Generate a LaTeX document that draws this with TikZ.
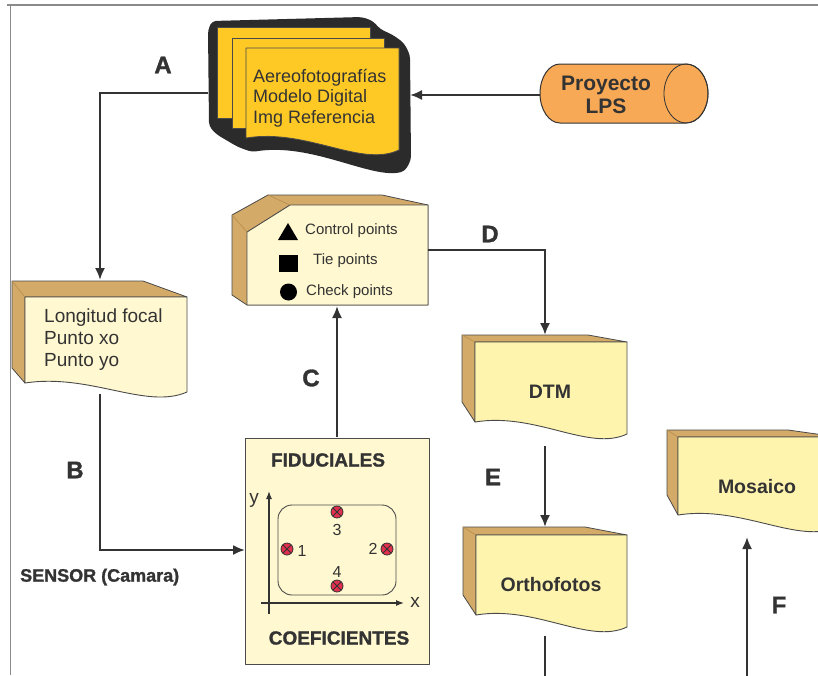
\documentclass[tikz,border=0pt]{standalone}
\usepackage{fontspec}
\setmainfont{Liberation Sans}
\newfontfamily\heavyfont{Liberation Sans}[BoldFeatures={FakeBold=1.3}]
\usetikzlibrary{arrows.meta}
\definecolor{ink}{HTML}{333333}
\definecolor{edge}{HTML}{4A4A4A}
\definecolor{tanc}{HTML}{D4AA69}
\definecolor{tanedge}{HTML}{B8904F}
\definecolor{facea}{HTML}{FFF8D0}
\definecolor{faceb}{HTML}{FFF4AE}
\definecolor{docy}{HTML}{FFC925}
\definecolor{stackk}{HTML}{2B2B2B}
\definecolor{orng}{HTML}{F7A955}
\definecolor{redm}{HTML}{E0304E}
\definecolor{frame}{HTML}{8A8A8A}
\tikzset{
  conn/.style={draw=ink, line width=2pt},
  arr/.style={conn, -{Latex[length=12pt,width=10pt]}},
  tanside/.style={fill=tanc, draw=edge, line width=0.8pt, line join=round},
  tanline/.style={draw=tanedge, line width=0.7pt},
  facepale/.style={fill=facea, draw=edge, line width=0.9pt, line join=round},
  facebright/.style={fill=faceb, draw=edge, line width=0.9pt, line join=round},
  page/.style={fill=docy, draw=edge, line width=0.8pt, line join=round},
  lbl/.style={font=\fontsize{24}{24}\selectfont\heavyfont\bfseries, text=ink, inner sep=0pt},
  btxt/.style={font=\fontsize{19.5}{22}\selectfont\bfseries, text=ink, inner sep=0pt},
  htxt/.style={font=\fontsize{19}{22}\selectfont\heavyfont\bfseries, text=ink, inner sep=0pt},
  rtxt/.style={font=\fontsize{15}{18}\selectfont, text=ink, inner sep=0pt},
  fid/.style={fill=redm, draw=ink, line width=0.8pt},
}
\begin{document}
\begin{tikzpicture}[x=1pt,y=-1pt]
\useasboundingbox (0,0) rectangle (818,675);
\clip (0,0) rectangle (818,675);

% frame
\draw[frame, line width=1.4pt] (7,5) -- (818,5);
\draw[frame, line width=1.4pt] (10.5,5) -- (10.5,675);

% ---------- document stack ----------
\fill[stackk, rounded corners=4pt] (208,30) -- (212,21) -- (362,17) -- (373,21) -- (380,29) -- (393,35) -- (404,43) -- (410,55) -- (411,160)
   -- (405,171) .. controls (372,180) and (312,142) .. (252,152) -- (238,147) -- (226,140) -- (216,134) -- (209,126) -- cycle;
\draw[page] (217,27) rectangle (370,118);
\draw[page] (232,38) rectangle (384,128);
\draw[page] (246,48) -- (399,48) -- (399,150) .. controls (361,168) and (307,128) .. (246,138) -- cycle;
\node[anchor=west, align=left, font=\fontsize{18}{20.5}\selectfont, text=ink, inner sep=0pt] (docs) at (253,98)
  {Aereofotografías\\Modelo Digital\\Img Referencia};
\coordinate (docL) at (208,93);
\coordinate (docR) at (410,95);

% ---------- cylinder ----------
\draw[fill=orng, draw=ink, line width=1pt] (560,64) -- (686,64)
   arc[start angle=-90, end angle=90, x radius=22, y radius=29.5] -- (560,123)
   arc[start angle=90, end angle=270, x radius=20, y radius=29.5] -- cycle;
\draw[draw=ink, line width=0.8pt] (686,93.5) ellipse[x radius=22, y radius=29.5];
\node[align=center, font=\fontsize{21}{23}\selectfont\bfseries, text=ink, inner sep=0pt] (lps) at (606,95) {Proyecto\\LPS};
\coordinate (cylL) at (540,95);

% ---------- Longitud box ----------
\draw[tanside] (12,281) -- (143,281) -- (187,297) -- (25,297) -- (25,383) -- (12,368) -- cycle;
\draw[tanline] (12,281) -- (25,297);
\draw[facepale] (25,297) -- (187,297) -- (187,392) .. controls (146,410) and (90,373) .. (25,383) -- cycle;
\node[anchor=west, align=left, font=\fontsize{19}{22}\selectfont, text=ink, inner sep=0pt] (cam) at (44,340)
  {Longitud focal\\Punto xo\\Punto yo};
\coordinate (camT) at (100,280);
\coordinate (camB) at (100,394);

% ---------- control points box ----------
\draw[tanside] (232,215) -- (268,195) -- (382,195) -- (428,205) -- (428,305) -- (247,305) -- (232,295) -- cycle;
\draw[facepale] (247,232) -- (290,205) -- (428,205) -- (428,305) -- (247,305) -- cycle;
\draw[tanline] (268,195) -- (290,205);
\draw[tanline] (232,215) -- (247,232);
\fill[black] (278,240) -- (298,240) -- (288,223) -- cycle;
\fill[black] (279,255) rectangle (298,272);
\fill[black] (288.5,292) circle[radius=8.5];
\node[rtxt, anchor=west] (cp) at (305,231) {Control points};
\node[rtxt, anchor=west] (tp) at (313,261) {Tie points};
\node[rtxt, anchor=west] (kp) at (306,292) {Check points};
\coordinate (ctlB) at (337,306);
\coordinate (ctlR) at (428,250);

% ---------- FIDUCIALES box ----------
\draw[facepale] (245,438) rectangle (429,664);
\node[htxt] (fidt) at (328,460) {FIDUCIALES};
\node[htxt] (coef) at (339,638) {COEFICIENTES};
\draw[draw=edge, line width=0.9pt, rounded corners=14pt] (278,505) rectangle (396,595);
\coordinate (yax0) at (269,614);
\coordinate (yax1) at (269,491);
\coordinate (xax0) at (261,603);
\coordinate (xax1) at (404,603);
\draw[draw=ink, line width=1.2pt, -{Latex[length=8pt,width=6pt]}] (yax0) -- (yax1);
\draw[draw=ink, line width=1.2pt, -{Latex[length=8pt,width=6pt]}] (xax0) -- (xax1);
\node[font=\fontsize{19}{19}\selectfont, text=ink, inner sep=0pt] (ylab) at (254,500) {y};
\node[font=\fontsize{19}{19}\selectfont, text=ink, inner sep=0pt] (xlab) at (415,602) {x};
\foreach \n/\px/\py in {f1/287/549, f2/387/549, f3/337/512, f4/337/586}{
  \draw[fid] (\px,\py) circle[radius=6];
  \draw[draw=ink, line width=0.8pt] (\px-4.2,\py-4.2) -- (\px+4.2,\py+4.2) (\px-4.2,\py+4.2) -- (\px+4.2,\py-4.2);
}
\node[font=\fontsize{16}{16}\selectfont, text=ink, inner sep=0pt] (n1) at (302,551) {1};
\node[font=\fontsize{16}{16}\selectfont, text=ink, inner sep=0pt] (n2) at (373,549) {2};
\node[font=\fontsize{16}{16}\selectfont, text=ink, inner sep=0pt] (n3) at (337,530) {3};
\node[font=\fontsize{16}{16}\selectfont, text=ink, inner sep=0pt] (n4) at (337,572) {4};
\coordinate (fidL) at (245,550);
\coordinate (fidT) at (337,437);

% ---------- DTM ----------
\draw[tanside] (462,335) -- (588,335) -- (627,342) -- (475,342) -- (475,422) -- (462,402) -- cycle;
\draw[tanline] (462,335) -- (475,342);
\draw[facebright] (475,342) -- (627,342) -- (627,434) .. controls (589,452) and (536,412) .. (475,422) -- cycle;
\node[btxt] (dtm) at (550,392) {DTM};
\coordinate (dtmT) at (545,335);
\coordinate (dtmB) at (545,446);

% ---------- Orthofotos ----------
\draw[tanside] (463,527) -- (585,527) -- (627,535) -- (476,535) -- (476,615) -- (463,595) -- cycle;
\draw[tanline] (463,527) -- (476,535);
\draw[facebright] (476,535) -- (627,535) -- (627,627) .. controls (589,645) and (536,605) .. (476,615) -- cycle;
\node[btxt] (orto) at (551,585) {Orthofotos};
\coordinate (ortT) at (545,527);
\coordinate (ortB) at (545,636);
\coordinate (ortEnd) at (545,680);

% ---------- Mosaico ----------
\draw[tanside] (667,430) -- (788,430) -- (838,437) -- (678,437) -- (678,515) -- (667,495) -- cycle;
\draw[tanline] (667,430) -- (678,437);
\draw[facebright] (678,437) -- (838,437) -- (838,527) .. controls (798,545) and (742,505) .. (678,515) -- cycle;
\node[btxt] (mos) at (757,487) {Mosaico};
\coordinate (mosB) at (747,537);
\coordinate (mosStart) at (747,680);

% ---------- connectors ----------
\draw[arr] (cylL) -- (docR);
\draw[arr] (docL) -- (100,93) -- (camT);
\draw[arr] (camB) -- (100,550) -- (fidL);
\draw[arr] (fidT) -- (ctlB);
\draw[arr] (ctlR) -- (545,250) -- (dtmT);
\draw[arr] (dtmB) -- (ortT);
\draw[conn] (ortB) -- (ortEnd);
\draw[arr] (mosStart) -- (mosB);

% ---------- labels ----------
\node[lbl] (la) at (163,65) {A};
\node[lbl] (lb) at (75,470) {B};
\node[lbl] (lc) at (311,378) {C};
\node[lbl] (ld) at (490,234) {D};
\node[lbl] (le) at (493,477) {E};
\node[lbl] (lf) at (779,605) {F};
\node[anchor=west, font=\fontsize{18}{18}\selectfont\heavyfont\bfseries, text=ink, inner sep=0pt] (sensor) at (20,577) {SENSOR (Camara)};
\end{tikzpicture}
\end{document}
